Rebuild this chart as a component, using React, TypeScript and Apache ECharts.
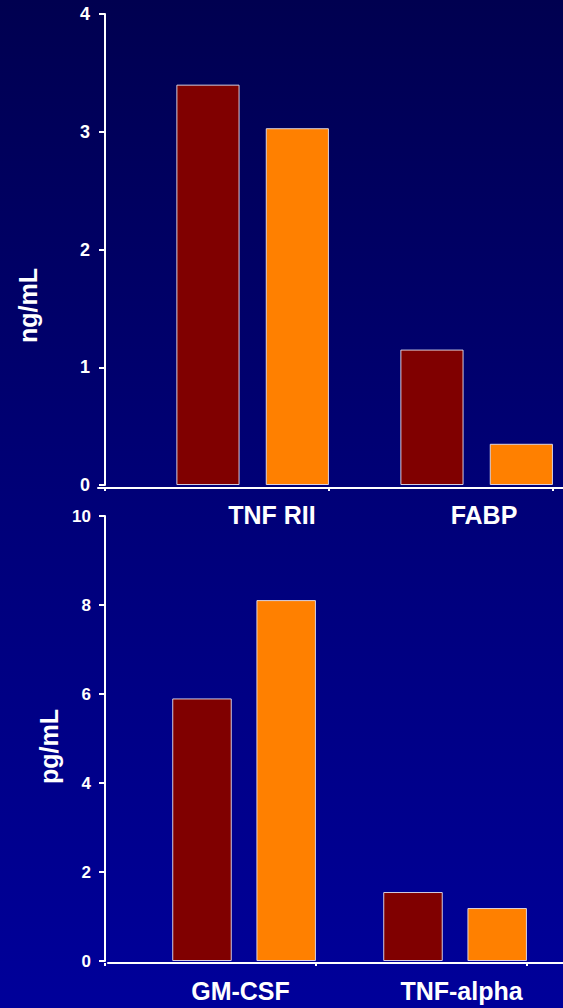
import React, { useEffect, useRef } from "react";
import * as echarts from "echarts";

// Upper panel: soluble receptors / binding proteins (ng/mL)
const proteinCategories = ["TNF RII", "FABP"];
const proteinGroupA = [3.4, 1.15];
const proteinGroupB = [3.03, 0.35];
const proteinTicks = [0, 1, 2, 3, 4];

// Lower panel: cytokines (pg/mL)
const cytokineCategories = ["GM-CSF", "TNF-alpha"];
const cytokineGroupA = [5.9, 1.55];
const cytokineGroupB = [8.11, 1.19];
const cytokineTicks = [0, 2, 4, 6, 8, 10];

const FONT = "'Liberation Sans', Arial, Helvetica, sans-serif";
const WHITE = "#ffffff";
const DARK_RED = "#800000";
const ORANGE = "#ff8000";

// horizontal nudge (px) of each category caption
const proteinLabelShift = [55, 43];
const cytokineLabelShift = [30, 40];

function categoryAxis(gridIndex: number, data: string[], shifts: number[], offset: number, margin: number) {
  const rich: Record<string, any> = {};
  shifts.forEach((s, i) => {
    rich["c" + i] = {
      color: WHITE,
      fontSize: 25,
      fontWeight: "bold",
      fontFamily: FONT,
      padding: [0, 0, 0, s * 2],
    };
  });
  return {
    type: "category",
    gridIndex,
    data,
    offset,
    axisLine: { show: false, onZero: false },
    axisTick: { show: true, length: 3, inside: false, lineStyle: { color: WHITE, width: 2 } },
    axisLabel: {
      interval: 0,
      margin,
      formatter: (v: string, i: number) => `{c${i}|${v}}`,
      rich,
    },
    splitLine: { show: false },
  };
}

function valueAxis(gridIndex: number, ticks: number[], name: string, nameGap: number, nameShift: number, labelSize: number, margin: number) {
  return {
    type: "value",
    gridIndex,
    min: ticks[0],
    max: ticks[ticks.length - 1],
    interval: ticks[1] - ticks[0],
    axisLine: { show: true, lineStyle: { color: WHITE, width: 2 } },
    axisTick: { show: true, length: 6, inside: false, lineStyle: { color: WHITE, width: 2 } },
    axisLabel: {
      color: WHITE,
      fontSize: labelSize,
      fontWeight: "bold",
      fontFamily: FONT,
      margin,
    },
    splitLine: { show: false },
    name,
    nameLocation: "middle",
    nameRotate: 90,
    nameGap,
    nameTextStyle: {
      color: WHITE,
      fontSize: 25,
      fontWeight: "bold",
      fontFamily: FONT,
      padding: [0, nameShift * 2, 0, 0],
    },
  };
}

// full-width base line drawn on its own grid
function baseLineAxis(gridIndex: number, offset: number) {
  return {
    type: "value",
    gridIndex,
    min: 0,
    max: 1,
    offset,
    axisLine: { show: true, onZero: false, lineStyle: { color: WHITE, width: 2 } },
    axisTick: { show: false },
    axisLabel: { show: false },
    splitLine: { show: false },
  };
}

function hiddenAxis(gridIndex: number) {
  return { type: "value", gridIndex, min: 0, max: 1, show: false };
}

const barBorder = { borderColor: "rgba(228,226,240,0.9)", borderWidth: 1 };

function barSeries(axisIndex: number, values: number[], color: string) {
  return {
    type: "bar",
    xAxisIndex: axisIndex,
    yAxisIndex: axisIndex,
    data: values,
    barWidth: "28.2%",
    barGap: "41.5%",
    itemStyle: { color, ...barBorder },
    silent: true,
  };
}

// empty leading slot in each category group
function spacerSeries(axisIndex: number, count: number) {
  return {
    type: "bar",
    xAxisIndex: axisIndex,
    yAxisIndex: axisIndex,
    data: new Array(count).fill(null),
    barWidth: "22.5%",
    barGap: "41.5%",
    itemStyle: { color: "transparent" },
    silent: true,
  };
}

export default function App() {
  const ref = useRef<HTMLDivElement>(null);

  useEffect(() => {
    if (!ref.current) return;
    const chart = echarts.init(ref.current, undefined, { renderer: "svg" });
    chart.setOption({
      animation: false,
      backgroundColor: {
        type: "linear",
        x: 0,
        y: 0,
        x2: 0,
        y2: 1,
        colorStops: [
          { offset: 0, color: "#000050" },
          { offset: 0.5, color: "#000078" },
          { offset: 1, color: "#00009a" },
        ],
      },
      grid: [
        { left: 105, top: 14, width: 448, height: 471, containLabel: false },
        { left: 98, top: 14, right: 0, height: 471, containLabel: false },
        { left: 105, top: 516, width: 422, height: 445, containLabel: false },
        { left: 108, top: 516, right: 0, height: 445, containLabel: false },
      ],
      xAxis: [
        categoryAxis(0, proteinCategories, proteinLabelShift, 3, 14),
        baseLineAxis(1, 3),
        categoryAxis(2, cytokineCategories, cytokineLabelShift, 2, 15),
        baseLineAxis(3, 2),
      ],
      yAxis: [
        valueAxis(0, proteinTicks, "ng/mL", 65, 56, 18, 15),
        hiddenAxis(1),
        valueAxis(2, cytokineTicks, "pg/mL", 43, 8, 17, 14),
        hiddenAxis(3),
      ],
      series: [
        spacerSeries(0, proteinCategories.length),
        barSeries(0, proteinGroupA, DARK_RED),
        barSeries(0, proteinGroupB, ORANGE),
        spacerSeries(2, cytokineCategories.length),
        barSeries(2, cytokineGroupA, DARK_RED),
        barSeries(2, cytokineGroupB, ORANGE),
      ],
    });
    return () => chart.dispose();
  }, []);

  return (
    <div
      ref={ref}
      style={{ position: "absolute", left: 0, top: 0, width: 563, height: 1008 }}
    />
  );
}
